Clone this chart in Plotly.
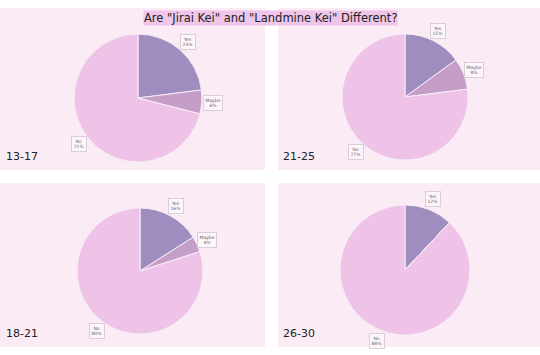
import math
import plotly.graph_objects as go

labels = ["Yes", "Maybe", "No"]
groups = ["13-17", "21-25", "18-21", "26-30"]
values_13_17 = [23, 6, 71]
values_21_25 = [15, 8, 77]
values_18_21 = [16, 4, 80]
values_26_30 = [12, 0, 88]
series = [values_13_17, values_21_25, values_18_21, values_26_30]
colors = ["#9f8dc0", "#c59ec7", "#eec3e7"]

W, H = 540, 355
# pixel layout: (center x, center y, radius), panel rect
pies = [(138, 98, 64), (405, 97, 63), (140, 271, 63), (405, 270, 65)]
panels = [(0, 8, 265, 170), (278, 8, 540, 170), (0, 183, 265, 347), (278, 183, 540, 347)]
group_pos = [(4, 156), (281, 156), (4, 333), (281, 333)]

def px(x):
    return x / W

def py(y):
    return 1 - y / H

fig = go.Figure()
shapes = []
annotations = []
for (x0, y0, x1, y1) in panels:
    shapes.append(dict(type="rect", xref="paper", yref="paper", x0=px(x0), x1=px(x1),
                       y0=py(y1), y1=py(y0), fillcolor="#fbebf5", line=dict(width=0), layer="below"))

for i, vals in enumerate(series):
    cx, cy, r = pies[i]
    fig.add_trace(go.Pie(
        labels=labels, values=vals, sort=False, direction="clockwise", rotation=0,
        marker=dict(colors=colors, line=dict(color="#f7eef6", width=1)),
        textinfo="none", hoverinfo="label+percent", showlegend=False,
        domain=dict(x=[px(cx - r), px(cx + r)], y=[py(cy + r), py(cy - r)]),
    ))
    total = sum(vals)
    cum = 0
    for lab, v in zip(labels, vals):
        if v <= 0:
            continue
        mid = (cum + v / 2) / total * 2 * math.pi
        cum += v
        rr = r * 1.17
        lx = cx + rr * math.sin(mid)
        ly = cy - rr * math.cos(mid)
        annotations.append(dict(
            x=px(lx), y=py(ly), xref="paper", yref="paper", showarrow=False,
            xanchor="center", yanchor="middle",
            text=f"{lab}<br>{v}%", font=dict(size=4.5, color="#666", family="DejaVu Sans"),
            bgcolor="#fdf5fb", bordercolor="#d8cfd6", borderwidth=1, borderpad=1.5,
            align="center",
        ))
    gx, gy = group_pos[i]
    annotations.append(dict(
        x=px(gx), y=py(gy), xref="paper", yref="paper", showarrow=False,
        xanchor="left", yanchor="middle", text=groups[i],
        font=dict(size=11, color="#222", family="DejaVu Sans"),
    ))

annotations.append(dict(
    x=0.5, y=py(18), xref="paper", yref="paper", showarrow=False,
    xanchor="center", yanchor="middle",
    text='Are "Jirai Kei" and "Landmine Kei" Different?',
    font=dict(size=11.5, color="#222", family="DejaVu Sans"),
    bgcolor="#efc6ea", borderpad=0,
))

fig.update_layout(
    width=W, height=H, margin=dict(l=0, r=0, t=0, b=0),
    paper_bgcolor="white", plot_bgcolor="white",
    shapes=shapes, annotations=annotations,
)
fig.write_html("out.html")
